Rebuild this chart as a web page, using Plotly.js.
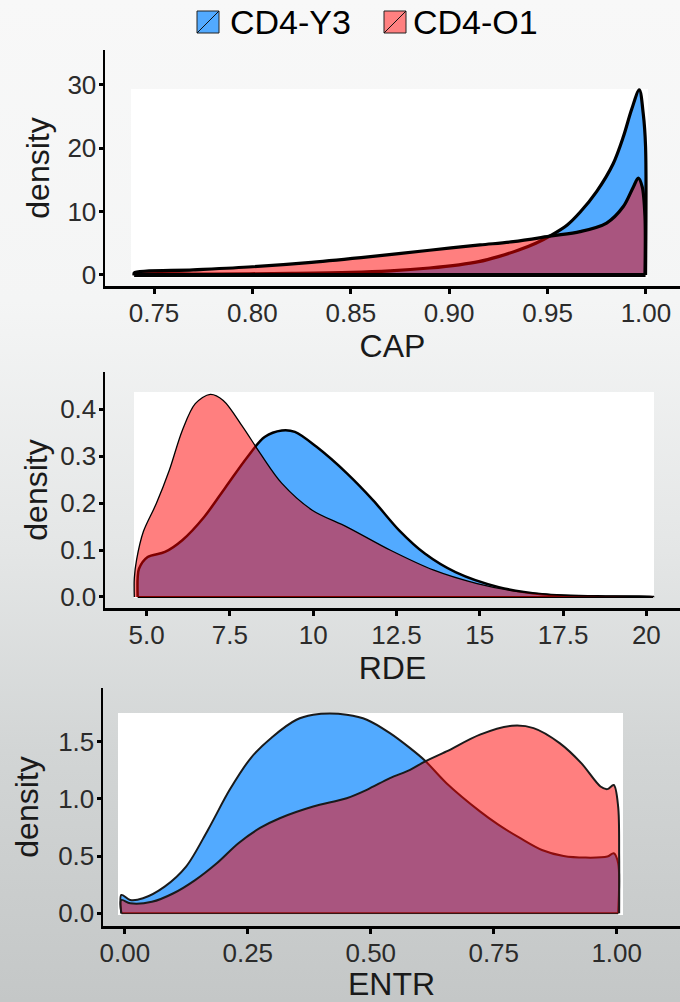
<!DOCTYPE html>
<html>
<head>
<meta charset="utf-8">
<script src="https://cdn.plot.ly/plotly-3.0.1.min.js"></script>
<style>
  html, body { margin: 0; padding: 0; }
  body {
    width: 680px; height: 1002px; overflow: hidden;
    background: linear-gradient(to bottom, #f8f8f8 0%, #f4f5f5 30%, #e4e6e6 55%, #d2d5d5 75%, #c4c7c7 100%);
  }
  #chart { width: 680px; height: 1002px; }
</style>
</head>
<body>
<div id="chart"></div>
<script>
// ---- Series names ----
const seriesNames = ["CD4-Y3", "CD4-O1"];

// ---- Panel 1: CAP ----
const capY3X = [0.74, 0.78, 0.82, 0.85, 0.87, 0.89, 0.905, 0.915, 0.925, 0.935, 0.944, 0.952, 0.960, 0.9665, 0.975, 0.9834, 0.9885, 0.9927, 0.9966, 0.9986, 0.9998];
const capY3  = [0.1, 0.15, 0.25, 0.4, 0.65, 1.1, 1.6, 2.1, 2.9, 3.9, 5.0, 6.3, 7.9, 9.9, 13.2, 17.6, 21.8, 26.1, 29.2, 25.5, 20.3];
const capO1X = [0.74, 0.77, 0.80, 0.83, 0.86, 0.89, 0.9157, 0.9326, 0.952, 0.9665, 0.980, 0.9885, 0.9936, 0.9961, 0.9981, 0.9995];
const capO1  = [0.35, 0.8, 1.3, 2.0, 2.9, 3.9, 4.74, 5.26, 6.16, 6.84, 8.2, 10.8, 13.9, 15.3, 13.9, 9.2];

// ---- Panel 2: RDE ----
const rdeY3X = [4.73, 4.77, 5.03, 5.55, 6.07, 6.72, 7.37, 8.02, 8.54, 9.06, 9.45, 10.1, 11.02, 11.8, 12.58, 13.36, 14.27, 15.57, 16.87, 18.83, 20.2];
const rdeY3  = [0.04, 0.06, 0.085, 0.096, 0.121, 0.17, 0.234, 0.298, 0.341, 0.355, 0.352, 0.32, 0.263, 0.206, 0.142, 0.092, 0.053, 0.021, 0.006, 0.001, 0.0005];
const rdeO1X = [4.63, 4.70, 4.9, 5.29, 5.68, 6.07, 6.46, 6.91, 7.3, 7.89, 8.41, 9.06, 9.97, 11.02, 12.32, 13.62, 14.92, 16.22, 17.52, 20.2];
const rdeO1  = [0.04, 0.08, 0.139, 0.199, 0.27, 0.355, 0.412, 0.432, 0.419, 0.362, 0.306, 0.242, 0.185, 0.149, 0.0995, 0.057, 0.0285, 0.0107, 0.0036, 0.0003];

// ---- Panel 3: ENTR ----
const entrY3X = [-0.007, 0.011, 0.037, 0.081, 0.125, 0.169, 0.2135, 0.257, 0.30, 0.349, 0.383, 0.417, 0.451, 0.492, 0.539, 0.58, 0.61, 0.654, 0.722, 0.76, 0.804, 0.848, 0.892, 0.937, 0.981, 0.994, 1.003];
const entrY3  = [0.16, 0.116, 0.131, 0.233, 0.41, 0.728, 1.08, 1.36, 1.54, 1.69, 1.733, 1.745, 1.733, 1.69, 1.573, 1.442, 1.334, 1.136, 0.89, 0.772, 0.656, 0.553, 0.50, 0.486, 0.495, 0.524, 0.437];
const entrO1X = [-0.007, 0.011, 0.055, 0.099, 0.143, 0.187, 0.231, 0.275, 0.315, 0.383, 0.451, 0.492, 0.539, 0.58, 0.61, 0.654, 0.722, 0.787, 0.831, 0.884, 0.928, 0.967, 0.981, 0.994, 1.003, 1.005];
const entrO1  = [0.116, 0.087, 0.10, 0.175, 0.29, 0.437, 0.612, 0.745, 0.83, 0.932, 1.005, 1.078, 1.18, 1.253, 1.325, 1.413, 1.56, 1.637, 1.617, 1.486, 1.311, 1.107, 1.084, 1.12, 0.93, 0.5];

// ---- Tick labels ----
const capTicks = [0.75, 0.80, 0.85, 0.90, 0.95, 1.00];
const capTickText = ["0.75", "0.80", "0.85", "0.90", "0.95", "1.00"];
const capYTicks = [0, 10, 20, 30];
const capYTickText = ["0", "10", "20", "30"];
const rdeTicks = [5, 7.5, 10, 12.5, 15, 17.5, 20];
const rdeTickText = ["5.0", "7.5", "10", "12.5", "15", "17.5", "20"];
const rdeYTicks = [0, 0.1, 0.2, 0.3, 0.4];
const rdeYTickText = ["0.0", "0.1", "0.2", "0.3", "0.4"];
const entrTicks = [0, 0.25, 0.5, 0.75, 1.0];
const entrTickText = ["0.00", "0.25", "0.50", "0.75", "1.00"];
const entrYTicks = [0, 0.5, 1.0, 1.5];
const entrYTickText = ["0.0", "0.5", "1.0", "1.5"];

const blueFill = "#52AAFF";
const redFill = "rgba(255,0,0,0.5)";
const redLegend = "#FF8080";

// density curve: filled to zero with smooth outline, vertical edges at both ends
function densityTrace(xs, ys, fill, lw, lc, xa, ya, name) {
  const n = xs.length;
  return {
    type: "scatter", mode: "lines", name: name,
    x: [xs[0]].concat(xs, [xs[n - 1]]),
    y: [0].concat(ys, [0]),
    fill: "tozeroy", fillcolor: fill,
    line: { color: lc, width: lw, shape: "spline", smoothing: 0.9 },
    xaxis: xa, yaxis: ya, hoverinfo: "skip", showlegend: false
  };
}
// baseline of the density outline
function baseTrace(xs, lw, lc, xa, ya) {
  return {
    type: "scatter", mode: "lines",
    x: [xs[0], xs[xs.length - 1]], y: [0, 0],
    line: { color: lc, width: lw },
    xaxis: xa, yaxis: ya, hoverinfo: "skip", showlegend: false
  };
}

const data = [
  densityTrace(capY3X, capY3, blueFill, 3.2, "#000", "x", "y", seriesNames[0]),
  baseTrace(capY3X, 4, "#000", "x", "y"),
  densityTrace(capO1X, capO1, redFill, 3.2, "#000", "x", "y", seriesNames[1]),
  baseTrace(capO1X, 4, "#000", "x", "y"),
  densityTrace(rdeY3X, rdeY3, blueFill, 2.5, "#000", "x2", "y2", seriesNames[0]),
  baseTrace(rdeY3X, 2, "#000", "x2", "y2"),
  densityTrace(rdeO1X, rdeO1, redFill, 1.3, "#000", "x2", "y2", seriesNames[1]),
  densityTrace(entrY3X, entrY3, blueFill, 2, "#1a1a1a", "x3", "y3", seriesNames[0]),
  baseTrace(entrY3X, 2, "#1a1a1a", "x3", "y3"),
  densityTrace(entrO1X, entrO1, redFill, 2, "#1a1a1a", "x3", "y3", seriesNames[1])
];

const W = 680, H = 1002;
const px = v => v / W;
const py = v => 1 - v / H;

const tickFont = { family: "Liberation Sans, Arial, sans-serif", size: 26, color: "#2b2b2b" };
const titleFont = { family: "Liberation Sans, Arial, sans-serif", size: 32, color: "#1a1a1a" };

function xAxis(domainL, range, vals, text, title, anchor) {
  return {
    domain: [px(domainL), 1], range: range, anchor: anchor,
    tickmode: "array", tickvals: vals, ticktext: text,
    showline: true, linecolor: "#000", linewidth: 2.5,
    ticks: "outside", ticklen: 5, tickwidth: 3, tickcolor: "#000",
    showgrid: false, zeroline: false, tickfont: tickFont,
    ticklabelstandoff: -3,
    title: { text: title, font: titleFont, standoff: 2 }
  };
}
function yAxis(top, bottom, range, vals, text, anchor, standoff) {
  return {
    domain: [py(bottom), py(top)], range: range, anchor: anchor,
    tickmode: "array", tickvals: vals, ticktext: text,
    showline: true, linecolor: "#000", linewidth: 2.5,
    ticks: "outside", ticklen: 4, tickwidth: 3, tickcolor: "#000",
    showgrid: false, zeroline: false, tickfont: tickFont,
    ticklabelstandoff: -3,
    title: { text: "density", font: titleFont, standoff: standoff }
  };
}

function whiteRect(x0, x1, y0, y1) {
  return { type: "rect", xref: "paper", yref: "paper", layer: "below",
    x0: px(x0), x1: px(x1), y0: py(y1), y1: py(y0),
    fillcolor: "#ffffff", line: { width: 0 } };
}

const shapes = [
  whiteRect(131, 648, 89, 278),
  whiteRect(134, 654, 392, 598),
  whiteRect(118, 623, 713, 915),
  // legend keys
  { type: "rect", xref: "paper", yref: "paper", x0: px(197), x1: px(219), y0: py(33), y1: py(11),
    fillcolor: blueFill, line: { color: "#222", width: 1 } },
  { type: "line", xref: "paper", yref: "paper", x0: px(197), x1: px(219), y0: py(33), y1: py(11),
    line: { color: "#111", width: 1 } },
  { type: "rect", xref: "paper", yref: "paper", x0: px(384), x1: px(406), y0: py(33), y1: py(11),
    fillcolor: redLegend, line: { color: "#222", width: 1 } },
  { type: "line", xref: "paper", yref: "paper", x0: px(384), x1: px(406), y0: py(33), y1: py(11),
    line: { color: "#111", width: 1 } }
];

const legendFont = { family: "Liberation Sans, Arial, sans-serif", size: 34, color: "#000" };
const annotations = [
  { xref: "paper", yref: "paper", x: px(228), y: py(22), xanchor: "left", yanchor: "middle",
    text: seriesNames[0], showarrow: false, font: legendFont },
  { xref: "paper", yref: "paper", x: px(411), y: py(22), xanchor: "left", yanchor: "middle",
    text: seriesNames[1], showarrow: false, font: legendFont }
];

const layout = {
  width: W, height: H,
  margin: { l: 0, r: 0, t: 0, b: 0 },
  paper_bgcolor: "rgba(0,0,0,0)", plot_bgcolor: "rgba(0,0,0,0)",
  showlegend: false,
  xaxis: xAxis(105, [0.7251, 1.0173], capTicks, capTickText, "CAP", "y"),
  yaxis: yAxis(50, 286, [-1.74, 35.5], capYTicks, capYTickText, "x", 8),
  xaxis2: xAxis(105, [3.75, 21.01], rdeTicks, rdeTickText, "RDE", "y2"),
  yaxis2: yAxis(372, 608, [-0.0235, 0.4795], rdeYTicks, rdeYTickText, "x2", 3),
  xaxis3: xAxis(103, [-0.0443, 1.1287], entrTicks, entrTickText, "ENTR", "y3"),
  yaxis3: yAxis(688, 926, [-0.111, 1.967], entrYTicks, entrYTickText, "x3", 10),
  shapes: shapes,
  annotations: annotations
};

Plotly.newPlot("chart", data, layout, { displayModeBar: false, staticPlot: true });
</script>
</body>
</html>
